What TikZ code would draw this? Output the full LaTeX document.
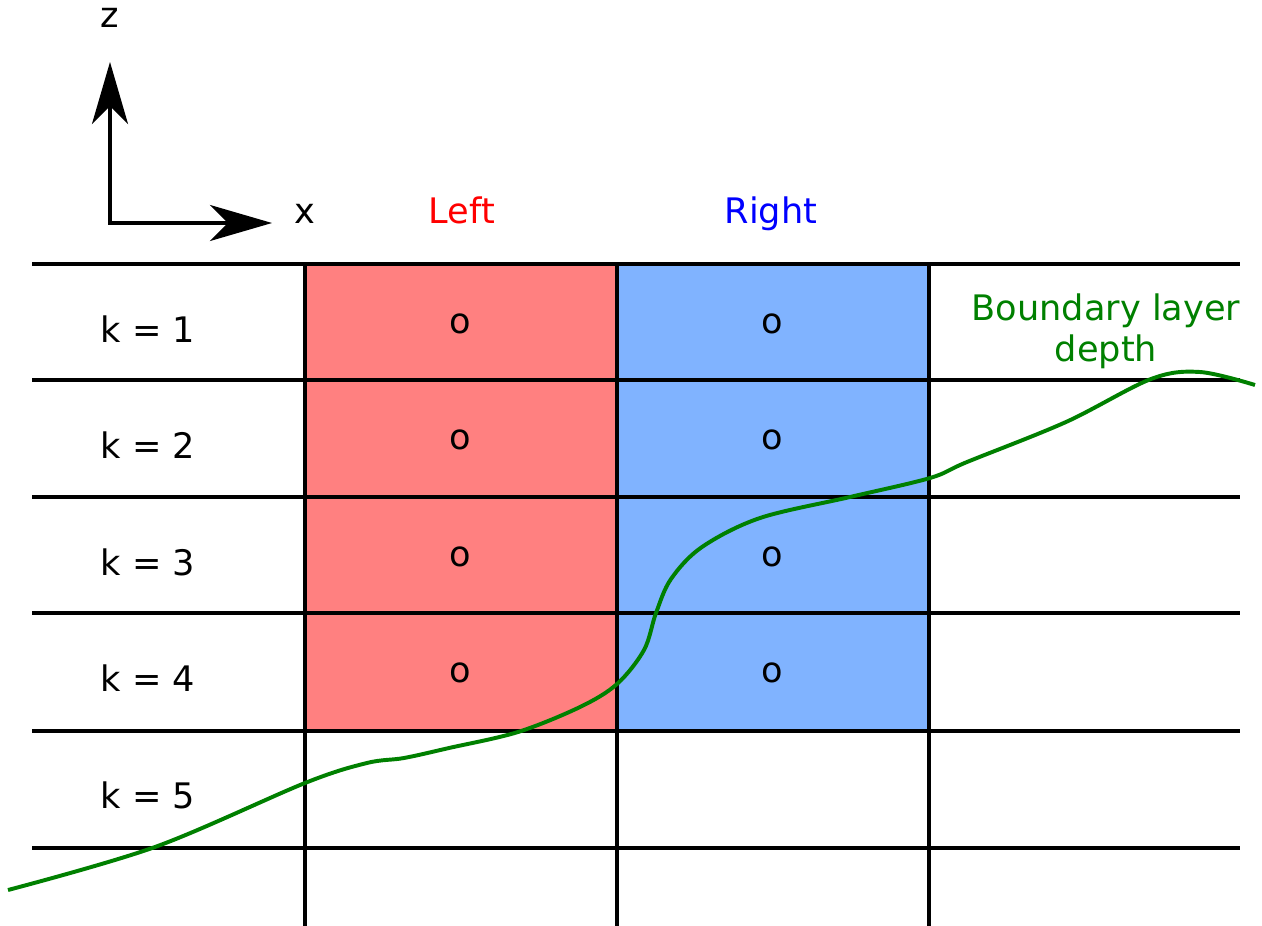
\documentclass[tikz,border=0pt]{standalone}
\usepackage{fontspec}
\setmainfont{DejaVu Sans}
\usetikzlibrary{arrows.meta}
\definecolor{leftred}{RGB}{255,128,128}
\definecolor{rightblue}{RGB}{128,179,255}
\definecolor{layergreen}{RGB}{0,128,0}

\begin{document}
\begin{tikzpicture}[x=0.025cm, y=-0.025cm,
    font=\fontsize{25}{29}\selectfont,
    grid/.style={line width=2.6pt, color=black},
    axis/.style={line width=2.6pt, {Stealth[length=1.55cm, width=0.9cm, inset=0.45cm]}-{Stealth[length=1.55cm, width=0.9cm, inset=0.45cm]}},
    lbl/.style={anchor=base, inner sep=0pt},
    blh/.style={line width=2.8pt, color=layergreen}
]
\useasboundingbox (0,0) rectangle (1262,926);

\fill[leftred] (305,264) rectangle (617,731);
\fill[rightblue] (617,264) rectangle (929,731);

\draw[grid] (32,264) -- (1240,264);
\draw[grid] (32,380) -- (1240,380);
\draw[grid] (32,497) -- (1240,497);
\draw[grid] (32,613) -- (1240,613);
\draw[grid] (32,731) -- (1240,731);
\draw[grid] (32,848) -- (1240,848);
\draw[grid] (305,264) -- (305,926);
\draw[grid] (617,264) -- (617,926);
\draw[grid] (929,264) -- (929,926);

\coordinate (origin) at (110,223);
\coordinate (ztip) at (110,62);
\coordinate (xtip) at (272,223);
\draw[axis] (ztip) -- (origin) -- (xtip);
\node[lbl] (zlabel) at (110,28) {z};
\node[lbl] (xlabel) at (305,223) {x};

\node[lbl, text=red] (left) at (462,223) {Left};
\node[lbl, text=blue] (right) at (771,223) {Right};

\node[lbl] (k1) at (148,342) {k = 1};
\node[lbl] (k2) at (148,458) {k = 2};
\node[lbl] (k3) at (148,575) {k = 3};
\node[lbl] (k4) at (148,691) {k = 4};
\node[lbl] (k5) at (148,808) {k = 5};

\node[lbl] (l1) at (460,333) {o};
\node[lbl] (l2) at (460,449) {o};
\node[lbl] (l3) at (460,566) {o};
\node[lbl] (l4) at (460,682) {o};
\node[lbl] (r1) at (772,333) {o};
\node[lbl] (r2) at (772,449) {o};
\node[lbl] (r3) at (772,566) {o};
\node[lbl] (r4) at (772,682) {o};

\node[lbl, align=center, text=layergreen] (blhlabel) at (1106,361) {Boundary layer\\depth};
\draw[blh] plot[smooth, tension=0.55] coordinates {(8,890) (155,847) (305,783) (367,763) (404,758) (449,748) (518,732) (580,707) (617,684) (644,650) (656,613) (671,579) (702,547) (760,518) (850,497) (930,478) (967,462) (1066,422) (1151,379) (1200,372) (1255,385)};
\end{tikzpicture}
\end{document}
